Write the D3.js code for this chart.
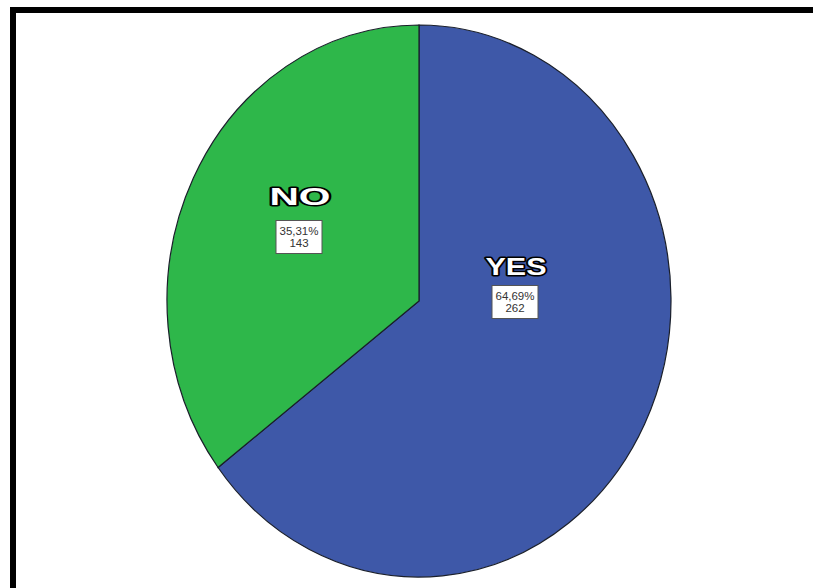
<!DOCTYPE html>
<html><head><meta charset="utf-8">
<script src="https://cdn.jsdelivr.net/npm/d3@7"></script>
<style>body{margin:0;background:#fff}svg{display:block}</style>
</head><body>
<script>
const categories = ["YES", "NO"];
const counts = [262, 143];
const percentLabels = ["64,69%", "35,31%"];
const colors = ["#3e58a8", "#2eb74a"];

const W = 813, H = 588;
const svg = d3.select("body").append("svg").attr("width", W).attr("height", H);

// frame
svg.append("path").attr("d", `M13,${H+10} L13,10 L${W+10},10`)
  .attr("fill", "none").attr("stroke", "#000").attr("stroke-width", 6);

const cx = 419, cy = 301, rx = 252, ry = 276;
const data = categories.map((c, i) => ({cat: c, count: counts[i], pct: percentLabels[i], color: colors[i]}));
const pie = d3.pie().value(d => d.count).sort(null);
const arcs = pie(data);
const arc = d3.arc().innerRadius(0).outerRadius(rx);

const g = svg.append("g").attr("transform", `translate(${cx},${cy}) scale(1,${ry/rx})`);
g.selectAll("path.slice").data(arcs).join("path").attr("class", "slice")
  .attr("d", arc).attr("fill", d => d.data.color)
  .attr("stroke", "#1a1f2a").attr("stroke-width", 1.2)
  .attr("vector-effect", "non-scaling-stroke");

// label layout (per slice)
const labelPos = {YES: {tx: 516, ty: 275, bx: 515, by: 302}, NO: {tx: 300, ty: 205, bx: 299, by: 237}};
const lg = svg.append("g");
data.forEach(d => {
  const p = labelPos[d.cat];
  lg.append("text").attr("x", p.tx).attr("y", p.ty)
    .attr("text-anchor", "middle")
    .attr("font-family", "Liberation Sans, Arial, sans-serif")
    .attr("font-weight", "bold").attr("font-size", 23)
    .attr("textLength", 61).attr("lengthAdjust", "spacingAndGlyphs")
    .attr("fill", "#fff").attr("stroke", "#000").attr("stroke-width", 3)
    .attr("paint-order", "stroke").attr("stroke-linejoin", "round")
    .text(d.cat);
  const bw = 46, bh = 33;
  lg.append("rect").attr("x", p.bx - bw/2).attr("y", p.by - bh/2)
    .attr("width", bw).attr("height", bh)
    .attr("fill", "#fff").attr("stroke", "#555").attr("stroke-width", 1);
  [d.pct, String(d.count)].forEach((s, i) => {
    lg.append("text").attr("text-anchor", "middle")
      .attr("font-family", "Liberation Sans, Arial, sans-serif")
      .attr("font-size", 11.5).attr("fill", "#333")
      .attr("x", p.bx).attr("y", p.by - 2 + i * 11.5).text(s);
  });
});
</script>
</body></html>
